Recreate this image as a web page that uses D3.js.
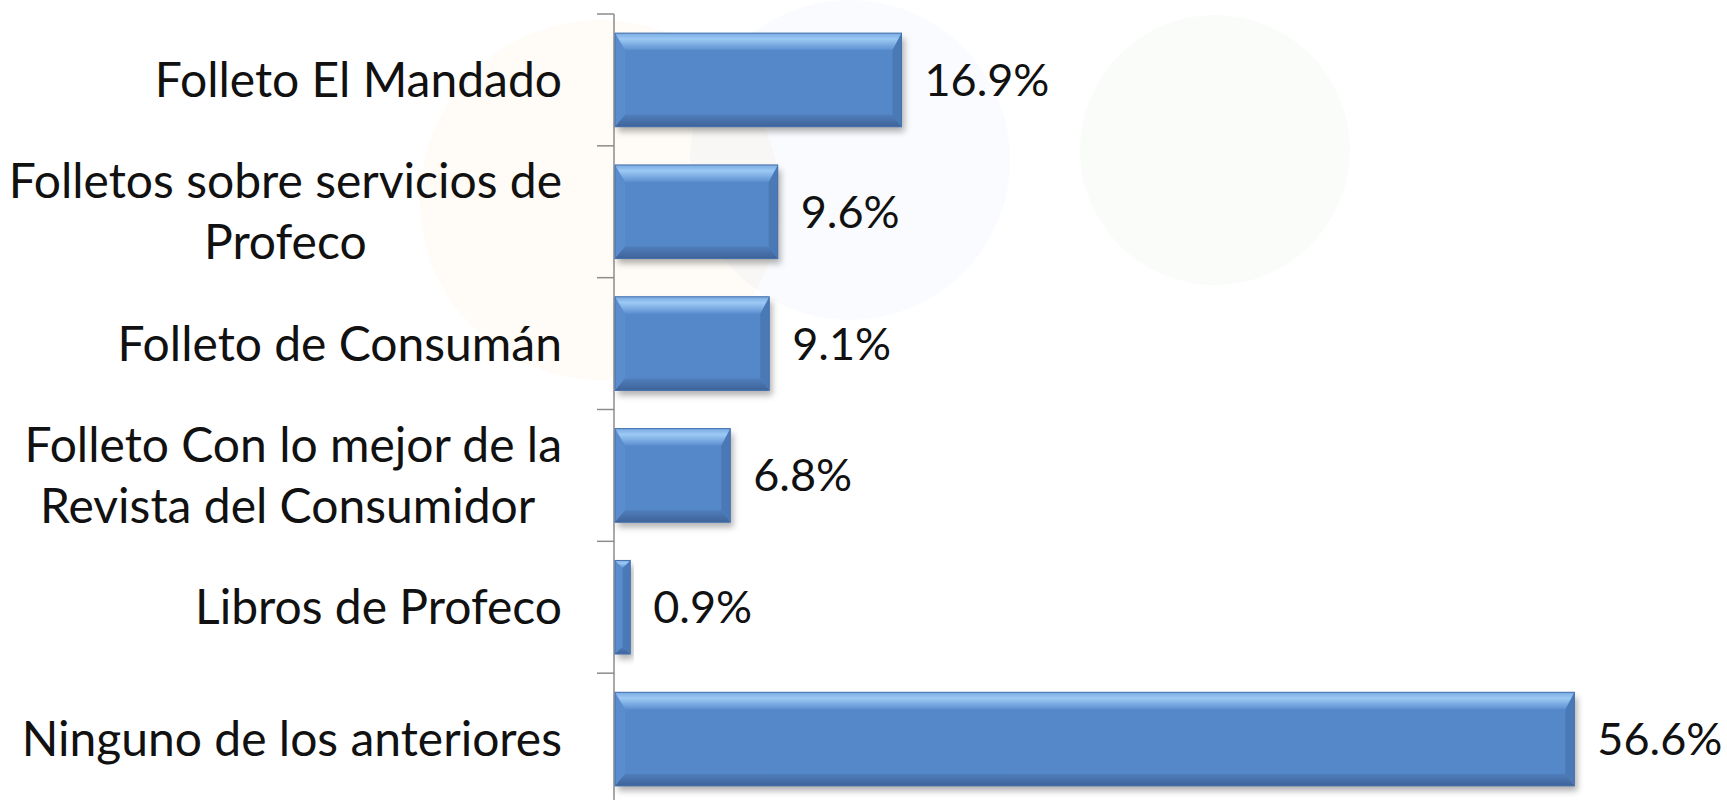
<!DOCTYPE html>
<html>
<head>
<meta charset="utf-8">
<script src="https://cdn.jsdelivr.net/npm/d3@7"></script>
<style>
    body { margin: 0; background: #ffffff; }
    svg { display: block; }
    text { font-family: Lato, "Open Sans", sans-serif; fill: #111; }
</style>
</head>
<body>
<svg id="chart" width="1727" height="800"></svg>
<script>

// Chart data
var categories = [
    ['Folleto El Mandado'],
    ['Folletos sobre servicios de', 'Profeco'],
    ['Folleto de Consumán'],
    ['Folleto Con lo mejor de la', 'Revista del Consumidor '],
    ['Libros de Profeco'],
    ['Ninguno de los anteriores']
];
var values = [16.9, 9.6, 9.1, 6.8, 0.9, 56.6];
var value_labels = ['16.9%', '9.6%', '9.1%', '6.8%', '0.9%', '56.6%'];

var svg = d3.select('#chart');

var axis_x = 614,
    label_right = 562,
    font_size = 48,
    value_size = 45,
    line_height = 61;

var y = d3.scaleBand()
    .domain(d3.range(categories.length))
    .range([14, 805])
    .paddingInner(0.29)
    .paddingOuter(0.145);

var x = d3.scaleLinear()
    .domain([0, 60])
    .range([axis_x + 1, axis_x + 1 + 60 * 16.95]);

// faint watermark behind the chart
var marks = svg.append('g').attr('class', 'watermark');
marks.append('circle').attr('cx', 600).attr('cy', 200).attr('r', 180)
    .attr('fill', '#f7a838').attr('opacity', 0.045);
marks.append('circle').attr('cx', 850).attr('cy', 160).attr('r', 160)
    .attr('fill', '#3b8fd6').attr('opacity', 0.03);
marks.append('circle').attr('cx', 1215).attr('cy', 150).attr('r', 135)
    .attr('fill', '#6cbf5a').attr('opacity', 0.04);

var defs = svg.append('defs');

var shadow = defs.append('filter')
    .attr('id', 'shadow')
    .attr('x', '-10%').attr('y', '-20%')
    .attr('width', '130%').attr('height', '150%');
shadow.append('feDropShadow')
    .attr('dx', 3).attr('dy', 5)
    .attr('stdDeviation', 3)
    .attr('flood-color', '#000')
    .attr('flood-opacity', 0.3);

var top_grad = defs.append('linearGradient')
    .attr('id', 'bevel-top')
    .attr('x1', 0).attr('y1', 0).attr('x2', 0).attr('y2', 1);
top_grad.append('stop').attr('offset', '0%').attr('stop-color', '#7aaae3');
top_grad.append('stop').attr('offset', '35%').attr('stop-color', '#9cc9f4');
top_grad.append('stop').attr('offset', '100%').attr('stop-color', '#5c8fd0');

var bottom_grad = defs.append('linearGradient')
    .attr('id', 'bevel-bottom')
    .attr('x1', 0).attr('y1', 0).attr('x2', 0).attr('y2', 1);
bottom_grad.append('stop').attr('offset', '0%').attr('stop-color', '#4f7ebc');
bottom_grad.append('stop').attr('offset', '100%').attr('stop-color', '#3f6398');

// axis line and band ticks
var axis = svg.append('g').attr('class', 'axis');
axis.append('line')
    .attr('x1', axis_x).attr('x2', axis_x)
    .attr('y1', y.range()[0]).attr('y2', y.range()[1])
    .attr('stroke', '#8c8c8c').attr('stroke-width', 1.5);

var tick_pos = d3.range(categories.length + 1).map(function (i) {
    return y.range()[0] + i * y.step();
});
axis.selectAll('line.tick')
    .data(tick_pos)
    .enter()
    .append('line')
    .attr('class', 'tick')
    .attr('x1', axis_x - 17).attr('x2', axis_x)
    .attr('y1', function (d) { return d; })
    .attr('y2', function (d) { return d; })
    .attr('stroke', '#8c8c8c').attr('stroke-width', 1.5);

// bars with a bevelled look
var bars = svg.selectAll('g.bar')
    .data(values)
    .enter()
    .append('g')
    .attr('class', 'bar')
    .attr('transform', function (d, i) {
        return 'translate(' + x(0) + ',' + y(i) + ')';
    });

bars.each(function (d) {
    var g = d3.select(this),
        w = x(d) - x(0),
        h = y.bandwidth();
    var t = Math.min(17, w / 2), b = Math.min(12, w / 2),
        l = Math.min(10, w / 2), r = Math.min(9, w / 2);

    g.append('rect')
        .attr('width', w).attr('height', h)
        .attr('fill', '#5588c8')
        .attr('filter', 'url(#shadow)');

    function poly (pts, fill) {
        g.append('polygon')
            .attr('points', pts.map(function (p) { return p.join(','); }).join(' '))
            .attr('fill', fill);
    }

    poly([[0, 0], [l, t], [l, h - b], [0, h]], '#5a8dcd');
    poly([[w, 0], [w, h], [w - r, h - b], [w - r, t]], '#4b79b6');
    poly([[0, h], [l, h - b], [w - r, h - b], [w, h]], 'url(#bevel-bottom)');
    poly([[0, 0], [w, 0], [w - r, t], [l, t]], 'url(#bevel-top)');

    g.append('rect')
        .attr('width', w).attr('height', h)
        .attr('fill', 'none')
        .attr('stroke', '#4470ab')
        .attr('stroke-width', 1);
});

// value labels
svg.selectAll('text.value')
    .data(values)
    .enter()
    .append('text')
    .attr('class', 'value')
    .attr('x', function (d) { return x(d) + 23; })
    .attr('y', function (d, i) { return y(i) + y.bandwidth() / 2 + 16; })
    .attr('font-size', value_size)
    .text(function (d, i) { return value_labels[i]; });

// category labels, right aligned block with centred lines
var labels = svg.selectAll('g.label')
    .data(categories)
    .enter()
    .append('g')
    .attr('class', 'label');

labels.each(function (lines, i) {
    var g = d3.select(this);
    var mid = y(i) + y.bandwidth() / 2,
        first = mid + 17 - (lines.length - 1) * line_height / 2;
    var texts = g.selectAll('text')
        .data(lines)
        .enter()
        .append('text')
        .attr('font-size', font_size)
        .attr('text-anchor', 'middle')
        .style('white-space', 'pre')
        .attr('y', function (d, j) { return first + j * line_height; })
        .text(function (d) { return d; });
    var widest = 0;
    texts.each(function () {
        widest = Math.max(widest, this.getComputedTextLength());
    });
    texts.attr('x', label_right - widest / 2);
});

</script>
</body>
</html>
